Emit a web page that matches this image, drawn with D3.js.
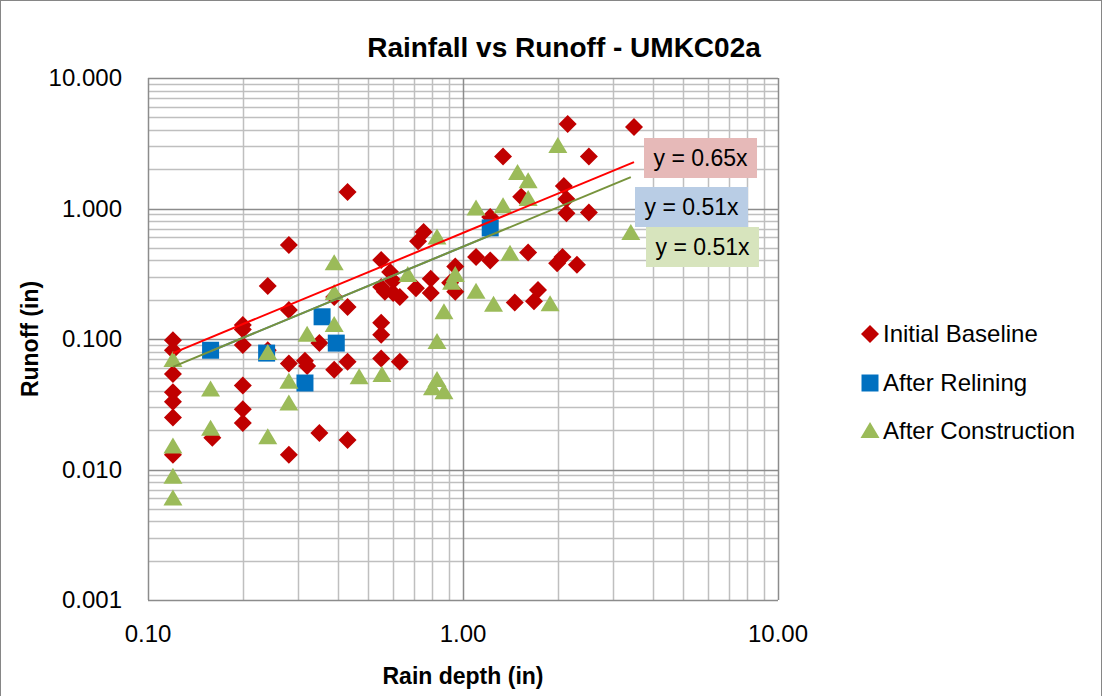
<!DOCTYPE html>
<html>
<head>
<meta charset="utf-8">
<script src="https://cdn.jsdelivr.net/npm/d3@7"></script>
<style>
  body { margin: 0; background: #fff; }
  svg { display: block; font-family: "Liberation Sans", Arial, sans-serif; }
</style>
</head>
<body>
<svg id="chart" width="1103" height="696"></svg>
<script>
// --- data ---
var baselineX = [0.12,0.12,0.12,0.12,0.12,0.12,0.12, 0.16, 0.20,0.20,0.20,0.20,0.20,0.20,
  0.24,0.24, 0.28,0.28,0.28,0.28, 0.315, 0.32, 0.35,0.35, 0.39,0.39, 0.43,0.43,0.43,0.43,
  0.55,0.55,0.55,0.55,0.55, 0.565, 0.587, 0.60,0.60, 0.63,0.63, 0.709, 0.72, 0.75, 0.79,0.79,
  0.91, 0.945,0.945, 1.10, 1.22,1.22, 1.34, 1.46, 1.53, 1.61, 1.68, 1.73, 1.99, 2.07, 2.09,
  2.13,2.13, 2.15, 2.30, 2.51,2.51, 3.49];
var baselineY = [0.098,0.082,0.054,0.039,0.033,0.025,0.013, 0.0175, 0.128,0.118,0.090,0.044,0.029,0.0227,
  0.255,0.082, 0.525,0.167,0.065,0.013, 0.068, 0.062, 0.093,0.019, 0.21,0.058, 1.34,0.176,0.067,0.0168,
  0.403,0.25,0.133,0.108,0.071, 0.23, 0.326, 0.28,0.225, 0.21,0.067, 0.245, 0.56, 0.66, 0.29,0.225,
  0.27, 0.36,0.23, 0.425, 0.86,0.40, 2.5, 0.19, 1.23, 0.46, 0.195, 0.237, 0.38, 0.425, 1.49,
  1.18,0.92, 4.44, 0.37, 2.5,0.93, 4.21];

var reliningX = [0.158, 0.238, 0.315, 0.357, 0.396, 1.22];
var reliningY = [0.082, 0.078, 0.046, 0.148, 0.093, 0.71];

var constructionX = [0.12,0.12,0.12,0.12, 0.158,0.158, 0.24,0.24, 0.28,0.28, 0.32, 0.39,0.39,0.39,
  0.468, 0.553, 0.668, 0.80, 0.827,0.827,0.827, 0.87,0.87, 0.92, 0.945, 1.10,1.10, 1.25, 1.34,
  1.41, 1.49, 1.61,1.61, 1.89, 2.0, 3.41];
var constructionY = [0.069,0.015,0.0088,0.006, 0.041,0.0205, 0.078,0.0177, 0.047,0.032, 0.108, 0.38,0.225,0.128,
  0.051, 0.053, 0.31, 0.042, 0.60,0.095,0.0485, 0.16,0.039, 0.27, 0.31, 1.0,0.23, 0.183, 1.04,
  0.45, 1.87, 1.62,1.18, 0.185, 3.01, 0.65];

var seriesNames = ["Initial Baseline", "After Relining", "After Construction"];
var trendSlopes = [0.65, 0.51, 0.51];
var trendLabels = ["y = 0.65x", "y = 0.51x", "y = 0.51x"];
var xTicks = [0.1, 1, 10];
var yTicks = [0.001, 0.01, 0.1, 1, 10];

var seriesColors = ["#C00000", "#0070C0", "#9BBB59"];
var trendColors = ["#FF0000", "#4F81BD", "#77933C"];
var labelFills = ["#E6B9B8", "#B9CDE5", "#D7E4BD"];

var series = [
  {x: baselineX, y: baselineY, shape: "diamond"},
  {x: reliningX, y: reliningY, shape: "square"},
  {x: constructionX, y: constructionY, shape: "triangle"}
];

var svg = d3.select("#chart");
var plot = {left: 148, right: 778, top: 78, bottom: 600};

var xScale = d3.scaleLog().domain([0.1, 10]).range([plot.left, plot.right]);
var yScale = d3.scaleLog().domain([0.001, 10]).range([plot.bottom, plot.top]);

// chart frame
svg.append("rect").attr("x", 0.5).attr("y", 0.5).attr("width", 1101).attr("height", 710)
  .attr("fill", "#fff").attr("stroke", "#868686");

// gridlines: minor first, then major
function minorValues(lo, hi) {
  var out = [];
  for (var d = lo; d < hi; d *= 10)
    for (var m = 2; m <= 9; m++) out.push(d * m);
  return out;
}
var g = svg.append("g");
g.selectAll(".xminor").data(minorValues(0.1, 10)).enter().append("line")
  .attr("x1", function(d){ return Math.round(xScale(d)) + 0.5; })
  .attr("x2", function(d){ return Math.round(xScale(d)) + 0.5; })
  .attr("y1", plot.top).attr("y2", plot.bottom)
  .attr("stroke", "#BFBFBF").attr("stroke-width", 1.5);
g.selectAll(".yminor").data(minorValues(0.001, 10)).enter().append("line")
  .attr("y1", function(d){ return Math.round(yScale(d)) + 0.5; })
  .attr("y2", function(d){ return Math.round(yScale(d)) + 0.5; })
  .attr("x1", plot.left).attr("x2", plot.right)
  .attr("stroke", "#BFBFBF").attr("stroke-width", 1.5);
g.selectAll(".xmajor").data(xTicks).enter().append("line")
  .attr("x1", function(d){ return Math.round(xScale(d)) + 0.5; })
  .attr("x2", function(d){ return Math.round(xScale(d)) + 0.5; })
  .attr("y1", plot.top).attr("y2", plot.bottom)
  .attr("stroke", "#8C8C8C").attr("stroke-width", 1.5);
g.selectAll(".ymajor").data(yTicks).enter().append("line")
  .attr("y1", function(d){ return Math.round(yScale(d)) + 0.5; })
  .attr("y2", function(d){ return Math.round(yScale(d)) + 0.5; })
  .attr("x1", plot.left).attr("x2", plot.right)
  .attr("stroke", "#8C8C8C").attr("stroke-width", 1.5);

// tick labels
svg.selectAll(".ylab").data(yTicks).enter().append("text")
  .attr("x", 122).attr("y", function(d){ return yScale(d); })
  .attr("dy", "0.35em").attr("text-anchor", "end")
  .attr("font-size", 24).attr("fill", "#000")
  .text(function(d){ return d3.format(".3f")(d); });
svg.selectAll(".xlab").data(xTicks).enter().append("text")
  .attr("x", function(d){ return xScale(d); }).attr("y", 634)
  .attr("dy", "0.35em").attr("text-anchor", "middle")
  .attr("font-size", 24).attr("fill", "#000")
  .text(function(d){ return d3.format(".2f")(d); });

// titles
svg.append("text").attr("x", 564).attr("y", 57).attr("text-anchor", "middle")
  .attr("font-size", 28).attr("font-weight", "bold").text("Rainfall vs Runoff - UMKC02a");
svg.append("text").attr("x", 463).attr("y", 684).attr("text-anchor", "middle")
  .attr("font-size", 23).attr("font-weight", "bold").text("Rain depth (in)");
svg.append("text").attr("transform", "translate(38,339) rotate(-90)").attr("text-anchor", "middle")
  .attr("font-size", 23).attr("font-weight", "bold").text("Runoff (in)");

// marker shapes
function markerPath(shape) {
  if (shape === "diamond") return "M0,-9L9,0L0,9L-9,0Z";
  if (shape === "square") return "M-8.5,-8.5H8.5V8.5H-8.5Z";
  return "M0,-9L9.5,7H-9.5Z";
}

series.forEach(function(s, i) {
  svg.append("g").selectAll("path").data(s.x.map(function(x, j){ return [x, s.y[j]]; }))
    .enter().append("path")
    .attr("d", markerPath(s.shape))
    .attr("transform", function(d){ return "translate(" + xScale(d[0]) + "," + yScale(d[1]) + ")"; })
    .attr("fill", seriesColors[i]);
});

// trendlines y = a*x over each series' x range
var line = d3.line().x(function(d){ return xScale(d[0]); }).y(function(d){ return yScale(d[1]); });
series.forEach(function(s, i) {
  var ext = d3.extent(s.x);
  svg.append("path")
    .attr("d", line(ext.map(function(x){ return [x, trendSlopes[i] * x]; })))
    .attr("stroke", trendColors[i]).attr("stroke-width", 2).attr("fill", "none");
});

// trendline labels
var labelBoxes = [[644, 138], [635, 187], [646, 227]];
trendLabels.forEach(function(t, i) {
  var b = labelBoxes[i];
  svg.append("rect").attr("x", b[0]).attr("y", b[1]).attr("width", 113).attr("height", 40)
    .attr("fill", labelFills[i]);
  svg.append("text").attr("x", b[0] + 56.5).attr("y", b[1] + 20).attr("dy", "0.35em")
    .attr("text-anchor", "middle").attr("font-size", 23).text(t);
});

// legend
var legendY = [334, 383, 431];
seriesNames.forEach(function(name, i) {
  svg.append("path").attr("d", markerPath(series[i].shape))
    .attr("transform", "translate(870," + legendY[i] + ")")
    .attr("fill", seriesColors[i]);
  svg.append("text").attr("x", 883).attr("y", legendY[i]).attr("dy", "0.35em")
    .attr("font-size", 24).text(name);
});
</script>
</body>
</html>
